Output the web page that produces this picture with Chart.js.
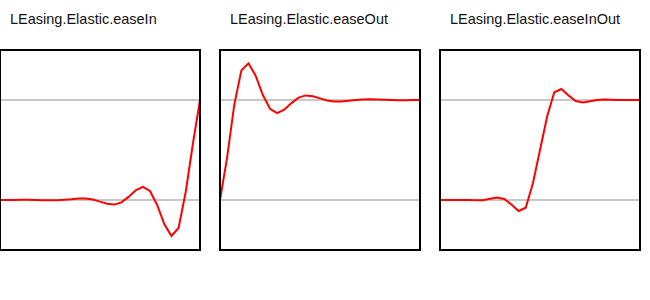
<!DOCTYPE html>
<html lang="en">
<head>
  <meta charset="UTF-8">
  <title>LEasing.Elastic</title>
  <script src="https://cdn.jsdelivr.net/npm/chart.js"></script>
  <style>
    body {
      margin: 0;
      width: 650px;
      height: 300px;
      background: #fff;
      position: relative;
      overflow: hidden;
      font-family: "Liberation Sans", Arial, Helvetica, sans-serif;
    }
    .title {
      position: absolute;
      top: 12px;
      font-size: 14.5px;
      line-height: 15px;
      color: #111;
      white-space: nowrap;
    }
    canvas {
      position: absolute;
      top: 50px;
    }
    .frame {
      position: absolute;
      top: 49px;
      width: 202px;
      height: 202px;
      box-sizing: border-box;
      border: 2px solid #000;
      pointer-events: none;
    }
  </style>
</head>
<body>
  <div class="title" style="left:10px">LEasing.Elastic.easeIn</div>
  <div class="title" style="left:230px">LEasing.Elastic.easeOut</div>
  <div class="title" style="left:450px">LEasing.Elastic.easeInOut</div>

  <canvas id="easeIn" width="200" height="200" style="left:0px"></canvas>
  <canvas id="easeOut" width="200" height="200" style="left:220px"></canvas>
  <canvas id="easeInOut" width="200" height="200" style="left:440px"></canvas>

  <div class="frame" style="left:-1px"></div>
  <div class="frame" style="left:219px"></div>
  <div class="frame" style="left:439px"></div>

<script>
  // 29 samples per curve, steps 0..28
  const steps = [0, 1, 2, 3, 4, 5, 6, 7, 8, 9, 10, 11, 12, 13, 14,
                 15, 16, 17, 18, 19, 20, 21, 22, 23, 24, 25, 26, 27, 28];

  const easeInValues = [0, 0, 0, 0.002, 0.002, 0, -0.002, -0.003, -0.002, 0.002,
    0.007, 0.015, 0.016, 0.005, -0.016, -0.038, -0.046, -0.024, 0.031, 0.097,
    0.132, 0.09, -0.05, -0.24, -0.36, -0.28, 0.08, 0.56, 1];

  const easeOutValues = [0, 0.427, 0.954, 1.297, 1.367, 1.24, 1.05, 0.912, 0.868, 0.903,
    0.969, 1.024, 1.046, 1.038, 1.016, 0.995, 0.984, 0.985, 0.993, 1.0,
    1.005, 1.007, 1.006, 1.003, 1.0, 0.998, 0.998, 0.999, 1];

  const easeInOutValues = [0, 0, 0, 0, 0, -0.002, -0.002, 0.012, 0.025, 0.011,
    -0.045, -0.11, -0.077, 0.165, 0.5, 0.835, 1.077, 1.11, 1.045, 0.989,
    0.976, 0.988, 1.0, 1.004, 1.002, 1.0, 1.0, 1.0, 1];

  const yMin = -0.5;
  const yMax = 1.5;
  const gridValues = [0, 1];

  function drawCurve(id, values) {
    return new Chart(document.getElementById(id), {
      type: 'line',
      data: {
        labels: steps,
        datasets: [{
          data: values,
          borderColor: '#ff0000',
          borderWidth: 2,
          tension: 0,
          pointRadius: 0,
          fill: false
        }]
      },
      options: {
        responsive: false,
        animation: false,
        events: [],
        layout: { padding: 0 },
        plugins: {
          legend: { display: false },
          tooltip: { enabled: false }
        },
        scales: {
          x: {
            display: false,
            offset: false
          },
          y: {
            min: yMin,
            max: yMax,
            afterBuildTicks: scale => {
              scale.ticks = gridValues.map(v => ({ value: v }));
            },
            ticks: { display: false },
            border: { display: false },
            grid: {
              color: '#c8c8c8',
              lineWidth: 2,
              drawTicks: false
            }
          }
        }
      }
    });
  }

  drawCurve('easeIn', easeInValues);
  drawCurve('easeOut', easeOutValues);
  drawCurve('easeInOut', easeInOutValues);
</script>
</body>
</html>
